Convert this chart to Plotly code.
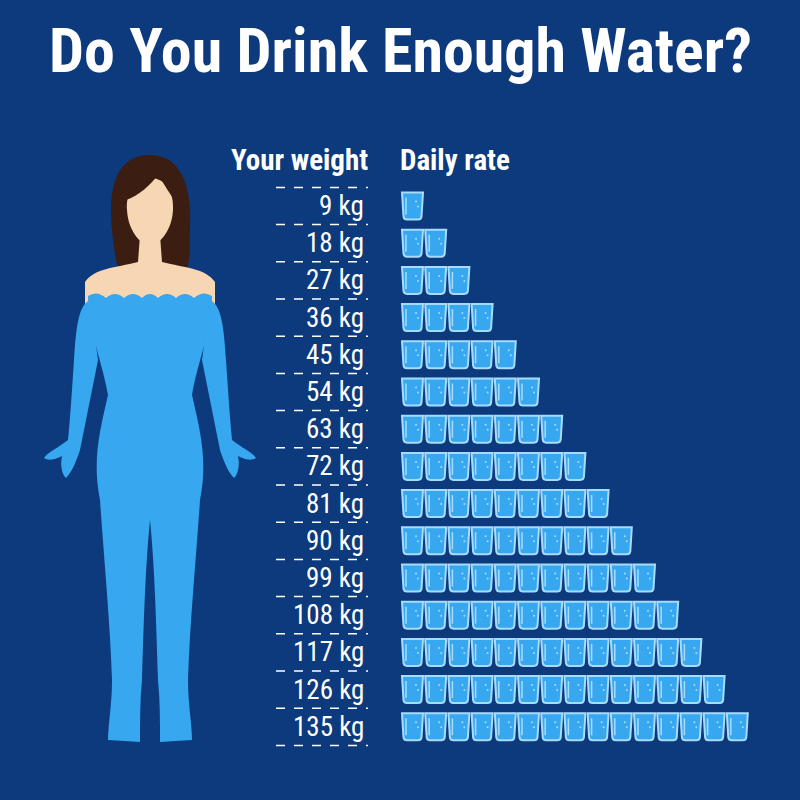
import plotly.graph_objects as go

weights = [9, 18, 27, 36, 45, 54, 63, 72, 81, 90, 99, 108, 117, 126, 135]
glasses = [1, 2, 3, 4, 5, 6, 7, 8, 9, 10, 11, 12, 13, 14, 15]
labels = [f"{w} kg" for w in weights]

BG = "#0c3a7c"
BLUE = "#37a7ef"
LIGHT = "#a8dcff"
SKIN = "#f7d6b4"
HAIR = "#3b1d12"
FONT = "Liberation Sans Narrow, Roboto Condensed, Roboto, sans-serif"

y0, dy = 206, 37.2
gx0, gstep, gw, gh = 402, 23.2, 21, 27

shapes = []
annotations = []

annotations.append(dict(x=400, y=50, text="<b>Do You Drink Enough Water?</b>", showarrow=False,
                        font=dict(size=62, color="white", family=FONT), xanchor="center", yanchor="middle"))
annotations.append(dict(x=370, y=160, text="<b>Your weight</b>", showarrow=False,
                        font=dict(size=29, color="white", family=FONT), xanchor="right", yanchor="middle"))
annotations.append(dict(x=398, y=160, text="<b>Daily rate</b>", showarrow=False,
                        font=dict(size=29, color="white", family=FONT), xanchor="left", yanchor="middle"))

for i, (lab, n) in enumerate(zip(labels, glasses)):
    yc = y0 + i * dy
    annotations.append(dict(x=366, y=yc, text=lab, showarrow=False,
                            font=dict(size=27, color="white", family=FONT), xanchor="right", yanchor="middle"))
    shapes.append(dict(type="line", x0=276, x1=368, y0=yc - dy / 2, y1=yc - dy / 2,
                       line=dict(color="white", width=1.5, dash="dash")))
    for j in range(n):
        xl = gx0 + j * gstep
        yt, yb = yc - gh / 2, yc + gh / 2
        path = (f"M{xl},{yt} L{xl+gw},{yt} L{xl+gw-1.5},{yb-3} Q{xl+gw-2},{yb} {xl+gw-5},{yb} "
                f"L{xl+5},{yb} Q{xl+2},{yb} {xl+1.5},{yb-3} Z")
        shapes.append(dict(type="path", path=path, fillcolor=BLUE, line=dict(color=LIGHT, width=2)))
        shapes.append(dict(type="line", x0=xl + 4, x1=xl + 4, y0=yt + 5, y1=yb - 5,
                           line=dict(color=LIGHT, width=1.5)))
        shapes.append(dict(type="circle", x0=xl + 13, x1=xl + 15, y0=yt + 8, y1=yt + 10,
                           fillcolor=LIGHT, line=dict(width=0)))
        shapes.append(dict(type="circle", x0=xl + 15, x1=xl + 17, y0=yt + 13, y1=yt + 15,
                           fillcolor=LIGHT, line=dict(width=0)))
shapes.append(dict(type="line", x0=276, x1=368, y0=y0 + 14.5 * dy, y1=y0 + 14.5 * dy,
                   line=dict(color="white", width=1.5, dash="dash")))

# woman figure (decorative)
hair = "M150,155 C115,155 108,190 112,230 C114,255 118,270 122,280 L178,280 C184,270 190,255 190,225 C192,185 180,155 150,155 Z"
shapes.append(dict(type="path", path=hair, fillcolor=HAIR, line=dict(width=0)))
shapes.append(dict(type="path", path="M180,230 C184,260 178,280 170,292 L175,296 C190,275 192,250 188,225 Z",
                   fillcolor=HAIR, line=dict(width=0)))
shapes.append(dict(type="path",
                   path="M140,235 L160,235 L162,262 C185,268 205,268 215,282 L215,305 L85,305 L85,282 C95,268 115,268 138,262 Z",
                   fillcolor=SKIN, line=dict(width=0)))
shapes.append(dict(type="path",
                   path="M150,178 C132,178 126,195 127,210 C128,230 140,245 150,245 C160,245 172,230 173,210 C174,195 168,178 150,178 Z",
                   fillcolor=SKIN, line=dict(width=0)))
shapes.append(dict(type="path", path="M150,170 C130,170 125,185 126,200 C140,195 150,185 158,175 C165,185 170,195 175,200 C176,185 170,170 150,170 Z",
                   fillcolor=HAIR, line=dict(width=0)))
body = ("M88,296 Q97,290 106,298 Q115,290 124,298 Q133,290 142,298 Q150,290 158,298 Q167,290 176,298 "
        "Q185,290 194,298 Q203,290 212,296 "
        "C212,330 198,360 192,395 C200,430 208,460 200,500 C196,560 190,620 188,680 "
        "C188,705 192,725 192,740 L160,742 C160,720 160,700 158,680 C156,610 154,560 150,520 "
        "C146,560 144,610 142,680 C140,700 140,720 140,742 L108,740 C108,725 112,705 112,680 "
        "C110,620 104,560 100,500 C92,460 100,430 108,395 C102,360 88,330 88,296 Z")
shapes.append(dict(type="path", path=body, fillcolor=BLUE, line=dict(width=0)))
larm = ("M90,300 C78,305 76,330 74,360 C72,390 70,420 68,440 C58,448 48,452 44,458 C50,462 58,458 62,456 "
        "C60,465 62,475 66,478 C72,472 76,462 80,450 C86,420 92,390 98,360 Z")
rarm = ("M210,300 C222,305 224,330 226,360 C228,390 230,420 232,440 C242,448 252,452 256,458 C250,462 242,458 238,456 "
        "C240,465 238,475 234,478 C228,472 224,462 220,450 C214,420 208,390 202,360 Z")
shapes.append(dict(type="path", path=larm, fillcolor=BLUE, line=dict(width=0)))
shapes.append(dict(type="path", path=rarm, fillcolor=BLUE, line=dict(width=0)))

fig = go.Figure()
fig.add_trace(go.Scatter(x=[0], y=[0], mode="markers", marker=dict(opacity=0), hoverinfo="skip"))
fig.update_layout(width=800, height=800, margin=dict(l=0, r=0, t=0, b=0),
                  paper_bgcolor=BG, plot_bgcolor=BG, showlegend=False,
                  xaxis=dict(range=[0, 800], visible=False, fixedrange=True),
                  yaxis=dict(range=[800, 0], visible=False, fixedrange=True),
                  shapes=shapes, annotations=annotations)
fig.write_html("out.html", config=dict(displayModeBar=False),
               post_script="document.body.style.margin='0';document.body.style.overflow='hidden';document.body.style.background='#0c3a7c';")
